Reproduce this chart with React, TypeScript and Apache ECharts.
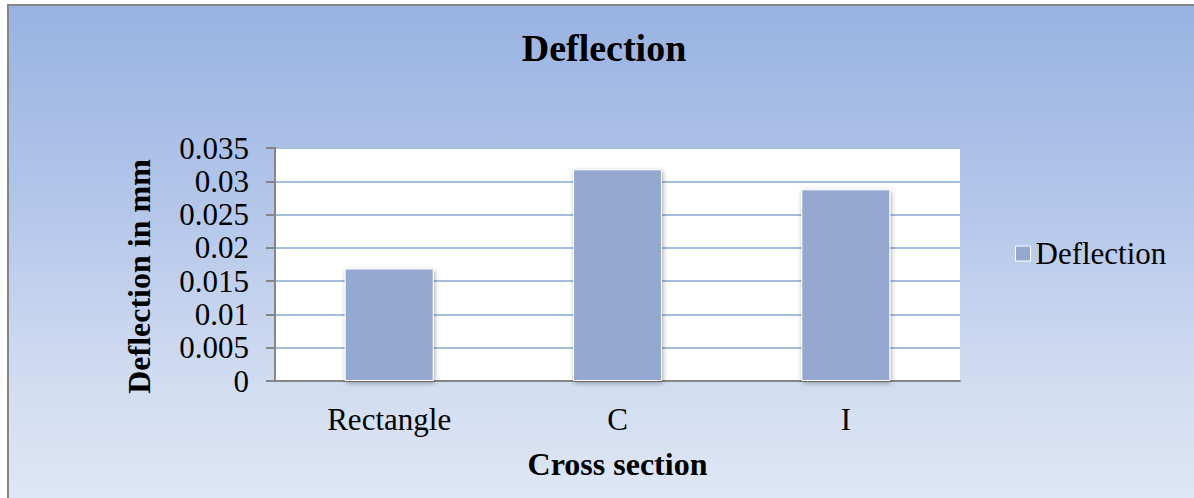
import React, { useEffect, useRef } from "react";
import * as echarts from "echarts";

const categories = ["Rectangle", "C", "I"];
const deflectionValues = [0.0169, 0.0318, 0.0288];
const seriesName = "Deflection";
const titleText = "Deflection";
const xAxisName = "Cross section";
const yAxisName = "Deflection in mm";

const FONT = '"Liberation Serif", "Times New Roman", serif';

export default function App() {
  const ref = useRef<HTMLDivElement>(null);
  useEffect(() => {
    if (!ref.current) return;
    const chart = echarts.init(ref.current, null, { renderer: "svg" });
    chart.setOption({
      animation: false,
      backgroundColor: "transparent",
      title: {
        text: titleText,
        left: 599,
        textAlign: "center",
        top: 24,
        textStyle: { fontFamily: FONT, fontSize: 38, fontWeight: "bold", color: "#000" },
      },
      legend: {
        orient: "vertical",
        left: 1010,
        top: 233,
        icon: "rect",
        itemWidth: 15,
        itemHeight: 15,
        itemGap: 8,
        itemStyle: { borderColor: "#ffffff", borderWidth: 1 },
        textStyle: { fontFamily: FONT, fontSize: 31, color: "#000" },
        data: [seriesName],
      },
      grid: {
        left: 275,
        top: 148,
        right: 234,
        bottom: 117,
        show: true,
        backgroundColor: "#ffffff",
        borderWidth: 0,
      },
      xAxis: {
        type: "category",
        data: categories,
        name: xAxisName,
        nameLocation: "middle",
        nameGap: 67,
        nameTextStyle: { fontFamily: FONT, fontSize: 32, fontWeight: "bold", color: "#000" },
        axisLine: { show: true, lineStyle: { color: "#868686", width: 2 } },
        axisTick: { show: false },
        axisLabel: { fontFamily: FONT, fontSize: 31, color: "#000", margin: 23 },
      },
      yAxis: {
        type: "value",
        min: 0,
        max: 0.035,
        interval: 0.005,
        name: yAxisName,
        nameLocation: "middle",
        nameGap: 120,
        nameTextStyle: {
          fontFamily: FONT,
          fontSize: 32,
          fontWeight: "bold",
          color: "#000",
          padding: [0, 24, 0, 0],
        },
        axisLine: { show: true, lineStyle: { color: "#868686", width: 2 } },
        axisTick: { show: true, length: 9, lineStyle: { color: "#868686", width: 2 } },
        axisLabel: { fontFamily: FONT, fontSize: 31, color: "#000", margin: 26 },
        splitLine: { show: true, lineStyle: { color: "#a5bddf", width: 2 } },
      },
      series: [
        {
          name: seriesName,
          type: "bar",
          data: deflectionValues,
          barWidth: 89,
          itemStyle: {
            color: "#95a9d0",
            borderColor: "#ffffff",
            borderWidth: 1,
            shadowBlur: 5,
            shadowColor: "rgba(0,0,0,0.35)",
            shadowOffsetX: 1,
            shadowOffsetY: 2,
          },
        },
      ],
    });
    return () => chart.dispose();
  }, []);

  return (
    <div style={{ position: "absolute", left: 0, top: 0, width: 1194, height: 498, background: "#ffffff", overflow: "hidden" }}>
      <div
        style={{
          position: "absolute",
          left: 7,
          top: 4,
          width: 1200,
          height: 510,
          borderLeft: "2px solid #868686",
          borderTop: "2px solid #868686",
          background: "linear-gradient(to bottom, #98b2e2 0%, #b4c7ea 40%, #d2ddf1 75%, #e0e8f5 100%)",
        }}
      />
      <div ref={ref} style={{ position: "absolute", left: 0, top: 0, width: 1194, height: 498 }} />
    </div>
  );
}
